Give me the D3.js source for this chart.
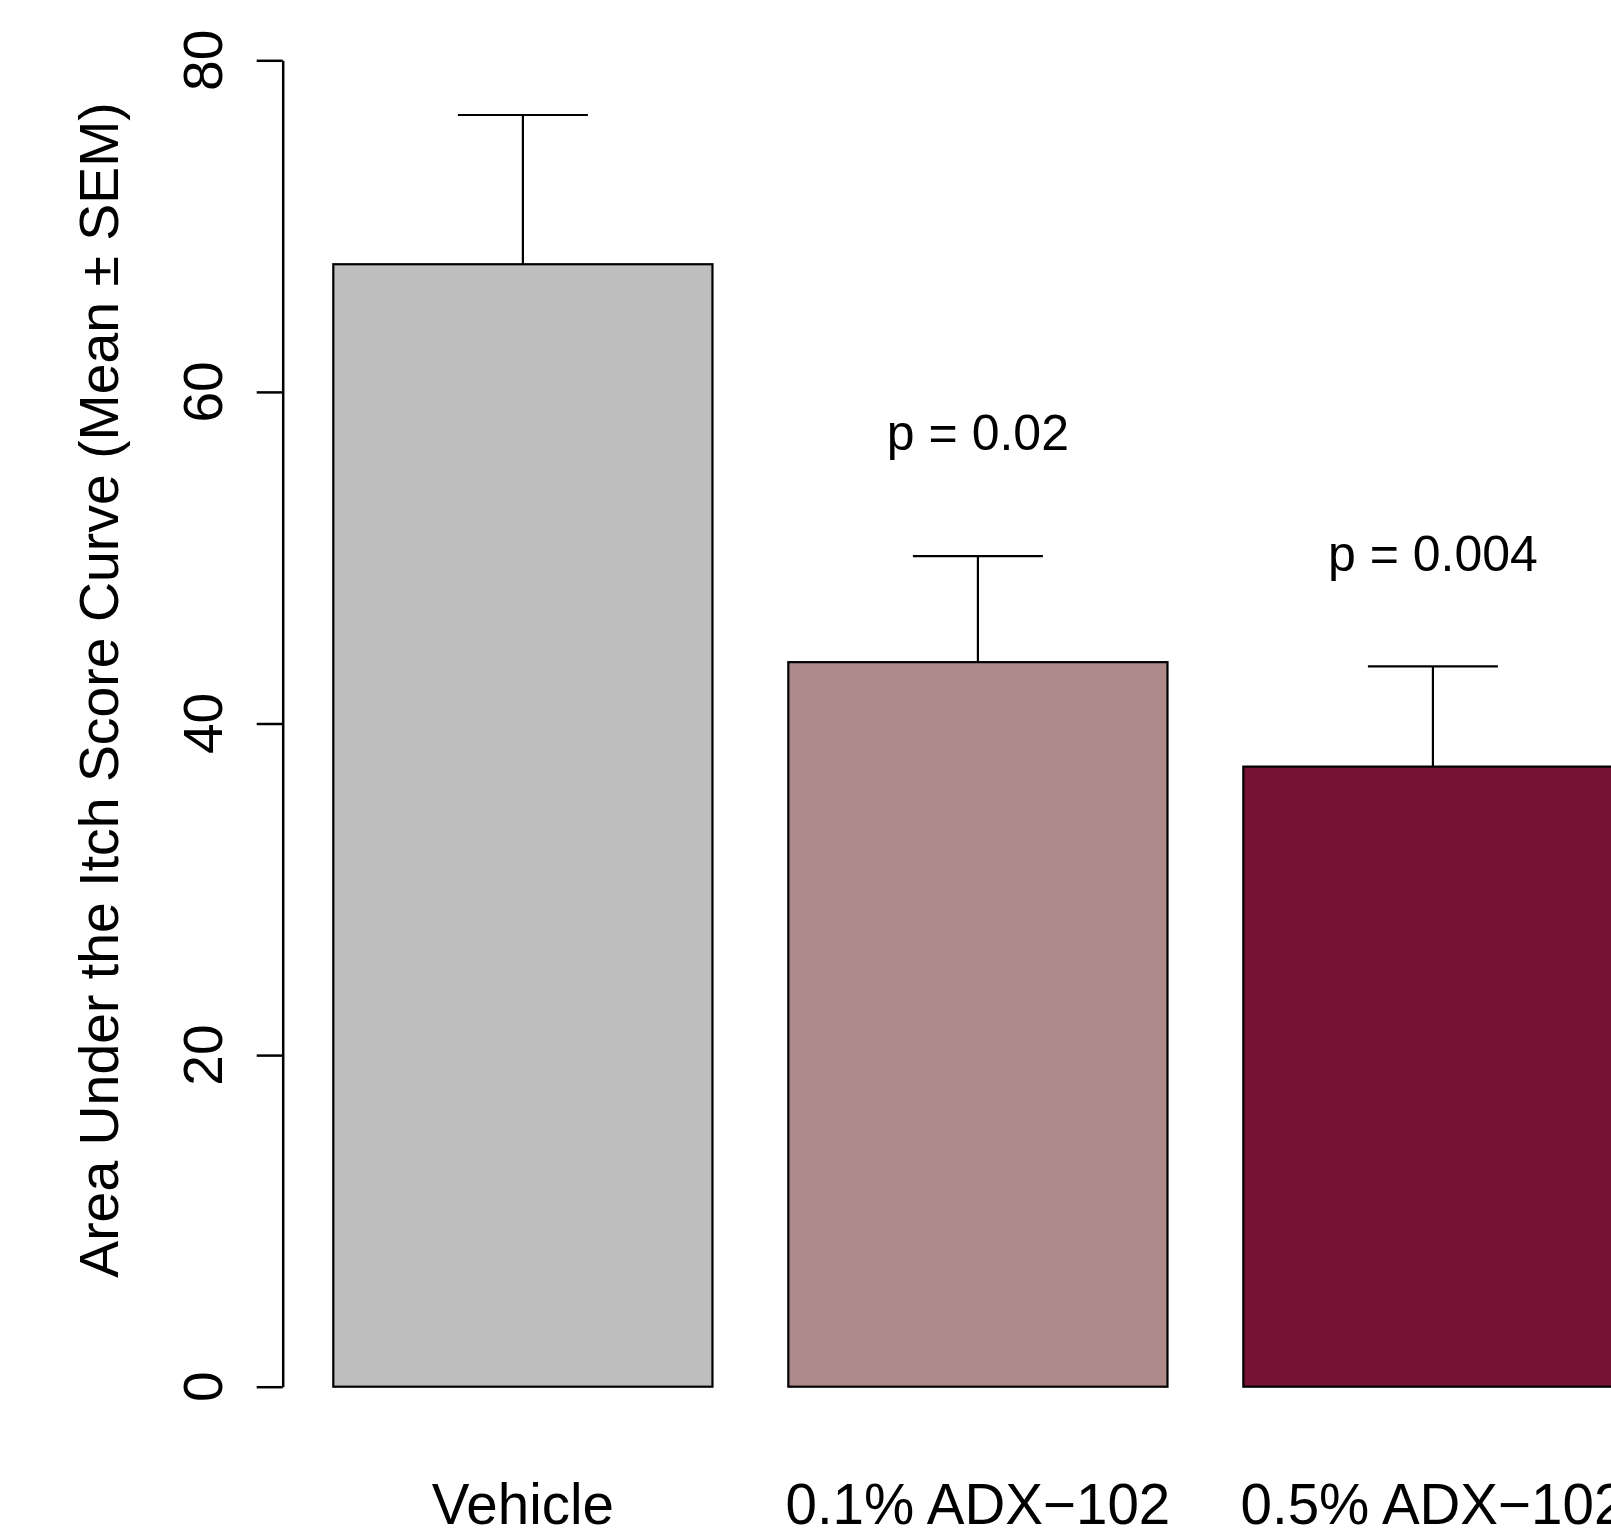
<!DOCTYPE html>
<html>
<head>
<meta charset="utf-8">
<script src="https://cdn.jsdelivr.net/npm/d3@7"></script>
<style>
  html, body { margin: 0; padding: 0; background: #fff; }
  svg { display: block; font-family: "Liberation Sans", Arial, Helvetica, sans-serif; }
</style>
</head>
<body>
<svg id="chart" width="1611" height="1532"></svg>
<script>
// data
const groups = ["Vehicle", "0.1% ADX\u2212102", "0.5% ADX\u2212102"];
const means = [67.7, 43.7, 37.4];
const sems = [9.0, 6.4, 6.05];
const pLabels = ["", "p = 0.02", "p = 0.004"];
const pLabelY = [0, 56.5, 49.2]; // where the p text sits, in data units
const yTicks = [0, 20, 40, 60, 80];
const barColors = ["#bebebe", "#ae8b8a", "#761234"];

const svg = d3.select("#chart");

// layout
const plot = { top: 60.3, bottom: 1386.7, axisX: 282.7 };

const y = d3.scaleLinear()
    .domain([0, 80])
    .range([plot.bottom, plot.top]);

const x = d3.scaleBand()
    .domain(groups)
    .range([295.4, 1660.4])
    .paddingInner(0.1667)
    .paddingOuter(0.0833);

// bars
svg.append("g")
    .selectAll("rect")
    .data(groups)
    .join("rect")
    .attr("x", d => x(d))
    .attr("y", (d, i) => y(means[i]))
    .attr("width", x.bandwidth())
    .attr("height", (d, i) => y(0) - y(means[i]))
    .attr("fill", (d, i) => barColors[i])
    .attr("stroke", "#000")
    .attr("stroke-width", 2.2);

// error bars (upper only)
const capHalf = 65;
const err = svg.append("g")
    .attr("stroke", "#000")
    .attr("stroke-width", 2.2);

groups.forEach((g, i) => {
    const cx = x(g) + x.bandwidth() / 2;
    err.append("line")
        .attr("x1", cx).attr("x2", cx)
        .attr("y1", y(means[i])).attr("y2", y(means[i] + sems[i]));
    err.append("line")
        .attr("x1", cx - capHalf).attr("x2", cx + capHalf)
        .attr("y1", y(means[i] + sems[i])).attr("y2", y(means[i] + sems[i]));
});

// p-value labels
svg.append("g")
    .selectAll("text")
    .data(groups)
    .join("text")
    .attr("x", d => x(d) + x.bandwidth() / 2)
    .attr("y", (d, i) => y(pLabelY[i]))
    .attr("text-anchor", "middle")
    .attr("font-size", 50)
    .text((d, i) => pLabels[i]);

// y axis
const yAxis = svg.append("g")
    .attr("transform", `translate(${plot.axisX},0)`)
    .call(d3.axisLeft(y).tickValues(yTicks).tickSize(26).tickSizeOuter(0).tickFormat(""));

yAxis.select(".domain").attr("stroke-width", 2.5);
yAxis.selectAll(".tick line").attr("stroke-width", 2.5);

svg.append("g")
    .selectAll("text")
    .data(yTicks)
    .join("text")
    .attr("transform", d => `translate(221.7,${y(d)}) rotate(-90)`)
    .attr("text-anchor", "middle")
    .attr("font-size", 55)
    .text(d => d);

// y axis title
svg.append("text")
    .attr("transform", "translate(118,690) rotate(-90)")
    .attr("text-anchor", "middle")
    .attr("font-size", 55.4)
    .text("Area Under the Itch Score Curve (Mean \u00b1 SEM)");

// group labels
svg.append("g")
    .selectAll("text")
    .data(groups)
    .join("text")
    .attr("x", d => x(d) + x.bandwidth() / 2)
    .attr("y", 1524)
    .attr("text-anchor", "middle")
    .attr("font-size", 56.5)
    .text(d => d);
</script>
</body>
</html>
